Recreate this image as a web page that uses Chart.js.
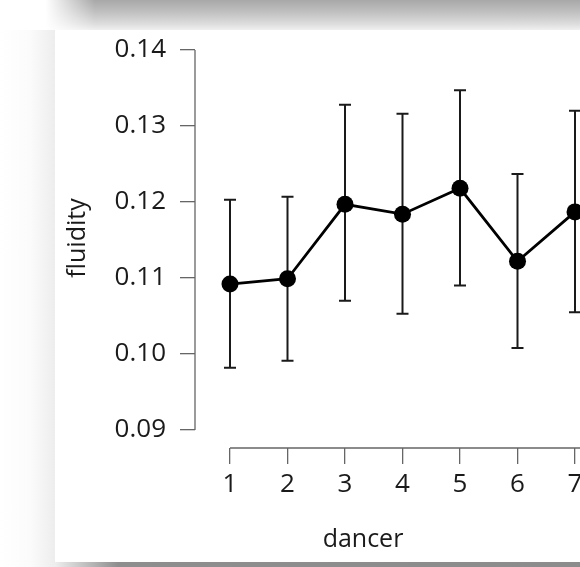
<!DOCTYPE html>
<html>
<head>
<meta charset="utf-8">
<script src="https://cdn.jsdelivr.net/npm/chart.js@4"></script>
<style>
  body { margin: 0; width: 580px; height: 567px; overflow: hidden; position: relative; background: #fff; }
  .top { position: absolute; left: 0; top: 0; width: 580px; height: 30px;
    background: linear-gradient(to bottom, #a8a8a8 0%, #c0c0c0 40%, #dddddd 80%, #f0f0f0 100%); }
  .topfade { position: absolute; left: 0; top: 0; width: 95px; height: 30px;
    background: linear-gradient(to right, #fff 48%, rgba(255,255,255,0) 100%); }
  .left { position: absolute; left: 0; top: 30px; width: 55px; height: 537px;
    background: linear-gradient(to right, #fff 0%, #fbfbfb 55%, #ededed 100%); }
  .bottom { position: absolute; left: 55px; top: 562px; width: 525px; height: 5px;
    background: linear-gradient(to right, #eeeeee 0%, #8e8e8e 12%, #8c8c8c 100%); }
  .panel { position: absolute; left: 55px; top: 30px; width: 560px; height: 532px; background: #fff; }
</style>
</head>
<body>
<div class="top"></div>
<div class="topfade"></div>
<div class="left"></div>
<div class="bottom"></div>
<div class="panel"><canvas id="Chart" width="560" height="532"></canvas></div>
<script>
const dancers = [1, 2, 3, 4, 5, 6, 7];
const fluidity = [0.1092, 0.1099, 0.1197, 0.1184, 0.1218, 0.1122, 0.1187];
const upperCI = [0.1203, 0.1207, 0.1328, 0.1316, 0.1347, 0.1237, 0.1320];
const lowerCI = [0.0982, 0.0991, 0.1070, 0.1053, 0.1090, 0.1008, 0.1055];
const yTicks = [0.09, 0.10, 0.11, 0.12, 0.13, 0.14];
const xTitle = "dancer";
const yTitle = "fluidity";

const fontFamily = "'Open Sans', 'Noto Sans', sans-serif";
const axisColor = "#666";
const textColor = "#1a1a1a";

// error bars, detached axis lines and axis titles
const errorBars = {
  id: "errorBars",
  beforeDatasetsDraw(chart) {
    const { ctx, scales, chartArea } = chart;
    const x = scales.x, y = scales.y;
    ctx.save();
    ctx.strokeStyle = axisColor;
    ctx.lineWidth = 1.3;
    ctx.beginPath();
    ctx.moveTo(chartArea.left, y.getPixelForValue(yTicks[0]));
    ctx.lineTo(chartArea.left, y.getPixelForValue(yTicks[yTicks.length - 1]));
    ctx.moveTo(x.getPixelForValue(dancers[0]), chartArea.bottom);
    ctx.lineTo(chartArea.right + 40, chartArea.bottom);
    ctx.stroke();

    ctx.strokeStyle = "#1a1a1a";
    ctx.lineWidth = 2;
    dancers.forEach((d, i) => {
      const px = x.getPixelForValue(d);
      const top = y.getPixelForValue(upperCI[i]);
      const bot = y.getPixelForValue(lowerCI[i]);
      ctx.beginPath();
      ctx.moveTo(px, top);
      ctx.lineTo(px, bot);
      ctx.moveTo(px - 6, top);
      ctx.lineTo(px + 6, top);
      ctx.moveTo(px - 6, bot);
      ctx.lineTo(px + 6, bot);
      ctx.stroke();
    });
    ctx.restore();
  },
  afterDraw(chart) {
    const { ctx } = chart;
    ctx.save();
    ctx.fillStyle = textColor;
    ctx.font = "25px " + fontFamily;
    ctx.textAlign = "center";
    ctx.textBaseline = "middle";
    ctx.fillText(xTitle, 308, 510);
    ctx.translate(23, 208);
    ctx.rotate(-Math.PI / 2);
    ctx.fillText(yTitle, 0, 0);
    ctx.restore();
  },
};

const yMin = yTicks[0] - 18 * (0.05 / 380);

new Chart(document.getElementById("Chart").getContext("2d"), {
  type: "line",
  data: {
    datasets: [
      {
        data: dancers.map((d, i) => ({ x: d, y: fluidity[i] })),
        borderColor: "#000",
        borderWidth: 2.8,
        backgroundColor: "#000",
        pointRadius: 8.5,
        pointBorderWidth: 0,
        pointBackgroundColor: "#000",
        tension: 0,
      },
    ],
  },
  options: {
    responsive: false,
    animation: false,
    layout: { padding: { top: 20, right: 28.5, left: 0, bottom: 0 } },
    plugins: { legend: { display: false }, tooltip: { enabled: false } },
    scales: {
      x: {
        type: "linear",
        min: 1 - 35 / 57.5,
        max: 7.2,
        afterBuildTicks: (scale) => { scale.ticks = dancers.map((v) => ({ value: v })); },
        afterFit: (scale) => {
          scale.height = 114;
          scale.paddingLeft = 0;
          scale.paddingRight = 0;
        },
        border: { display: false },
        grid: { display: true, drawOnChartArea: false, drawTicks: true, tickLength: 16, color: axisColor, lineWidth: 1.3 },
        ticks: { color: textColor, font: { family: fontFamily, size: 26 }, padding: 5, maxRotation: 0 },
      },
      y: {
        type: "linear",
        min: yMin,
        max: 0.14,
        afterBuildTicks: (scale) => { scale.ticks = yTicks.map((v) => ({ value: v })); },
        afterFit: (scale) => {
          scale.width = 140;
          scale.paddingTop = 0;
          scale.paddingBottom = 0;
        },
        border: { display: false },
        grid: { display: true, drawOnChartArea: false, drawTicks: true, tickLength: 15, color: axisColor, lineWidth: 1.3 },
        ticks: { color: textColor, font: { family: fontFamily, size: 26 }, padding: 14, callback: (v) => v.toFixed(2) },
      },
    },
  },
  plugins: [errorBars],
});
</script>
</body>
</html>
